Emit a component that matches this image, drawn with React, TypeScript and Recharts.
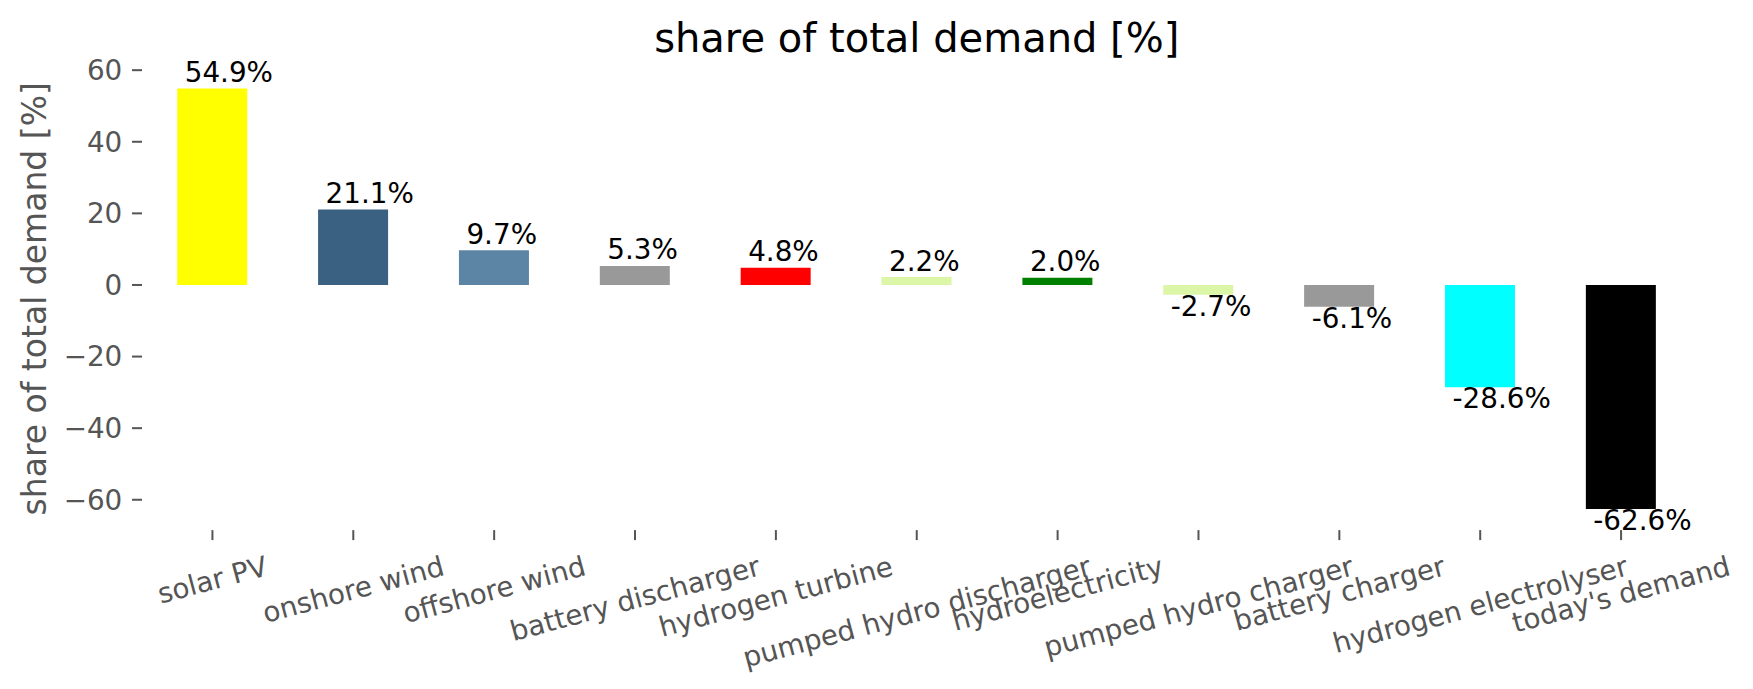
import { BarChart, Bar, Cell, XAxis, YAxis, LabelList } from 'recharts';

const categories = [
  'solar PV',
  'onshore wind',
  'offshore wind',
  'battery discharger',
  'hydrogen turbine',
  'pumped hydro discharger',
  'hydroelectricity',
  'pumped hydro charger',
  'battery charger',
  'hydrogen electrolyser',
  "today's demand",
];
const shares = [54.9, 21.1, 9.7, 5.3, 4.8, 2.2, 2.0, -2.7, -6.1, -28.6, -62.6];
const barColors = [
  '#ffff00', '#3b6182', '#5c84a5', '#999999', '#ff0000', '#daf6a6',
  '#008000', '#daf6a6', '#999999', '#00ffff', '#000000',
];
const yTicks = [-60, -40, -20, 0, 20, 40, 60];

const FONT = 'DejaVu Sans';
const W = 1753;
const H = 689;
const TICK_FS = 27.8;

// plot box (pixels)
const PLOT_LEFT = 142;
const PLOT_RIGHT = 1691.5;
const PLOT_TOP = 67.4;
const PLOT_BOTTOM = 530.1;
const Y_AXIS_W = 100;
const X_AXIS_H = 150;

const data = categories.map((name, i) => ({ name, value: shares[i] }));

let ctx: CanvasRenderingContext2D | null = null;
function textWidth(s: string, size: number) {
  if (!ctx) ctx = document.createElement('canvas').getContext('2d');
  if (!ctx) return s.length * size * 0.55;
  ctx.font = `${size}px "${FONT}"`;
  return ctx.measureText(s).width;
}

// rotated tick label, centred under the tick like matplotlib (rotation=15)
const RotatedTick = (props: any) => {
  const { x, y, payload } = props;
  const size = TICK_FS;
  const label = String(payload.value);
  const w = textWidth(label, size);
  const h = size * 1.164;
  const a = (15 * Math.PI) / 180;
  const boxH = w * Math.sin(a) + h * Math.cos(a);
  const cy = y + boxH / 2;
  return (
    <text
      x={x}
      y={cy + size * 0.346}
      textAnchor="middle"
      fill="#555555"
      fontSize={size}
      fontFamily={FONT}
      transform={`rotate(-15, ${x}, ${cy})`}
    >
      {label}
    </text>
  );
};

const ValueLabel = (props: any) => {
  const { x, y, height, value } = props;
  const v = Number(value);
  const top = Math.min(y, y + height);
  const bottom = Math.max(y, y + height);
  const ty = v >= 0 ? top - 6.5 : bottom + 21;
  return (
    <text x={x + 7.5} y={ty} fill="#000000" fontSize={TICK_FS} fontFamily={FONT}>
      {`${v.toFixed(1)}%`}
    </text>
  );
};

export default function App() {
  return (
    <div style={{ position: 'absolute', left: 0, top: 0, width: W, height: H, background: '#fff' }}>
      <BarChart
        width={W}
        height={H}
        data={data}
        barCategoryGap="25%"
        margin={{
          top: PLOT_TOP,
          right: W - PLOT_RIGHT,
          left: PLOT_LEFT - Y_AXIS_W,
          bottom: H - PLOT_BOTTOM - X_AXIS_H,
        }}
      >
        <XAxis
          dataKey="name"
          interval={0}
          height={X_AXIS_H}
          axisLine={false}
          tickLine={{ stroke: '#555555', strokeWidth: 2 }}
          tickSize={10}
          tickMargin={9.7}
          tick={<RotatedTick />}
        />
        <YAxis
          type="number"
          width={Y_AXIS_W}
          domain={[-68.475, 60.775]}
          ticks={yTicks}
          axisLine={false}
          tickLine={{ stroke: '#555555', strokeWidth: 2 }}
          tickSize={10}
          tickMargin={9.7}
          tickFormatter={(v: number) => (v < 0 ? `\u2212${-v}` : `${v}`)}
          tick={{ fill: '#555555', fontSize: TICK_FS, fontFamily: FONT }}
        />
        <Bar dataKey="value" isAnimationActive={false}>
          {data.map((d, i) => (
            <Cell key={`cell-${i}`} fill={barColors[i]} />
          ))}
          <LabelList dataKey="value" content={<ValueLabel />} />
        </Bar>
      </BarChart>
      <svg
        width={W}
        height={H}
        style={{ position: 'absolute', left: 0, top: 0, pointerEvents: 'none' }}
      >
        <text
          x={(PLOT_LEFT + PLOT_RIGHT) / 2}
          y={52}
          textAnchor="middle"
          fontSize={40}
          fontFamily={FONT}
          fill="#000000"
        >
          share of total demand [%]
        </text>
        <text
          x={45.6}
          y={(PLOT_TOP + PLOT_BOTTOM) / 2}
          textAnchor="middle"
          fontSize={33}
          fontFamily={FONT}
          fill="#555555"
          transform={`rotate(-90, 45.6, ${(PLOT_TOP + PLOT_BOTTOM) / 2})`}
        >
          share of total demand [%]
        </text>
      </svg>
    </div>
  );
}
